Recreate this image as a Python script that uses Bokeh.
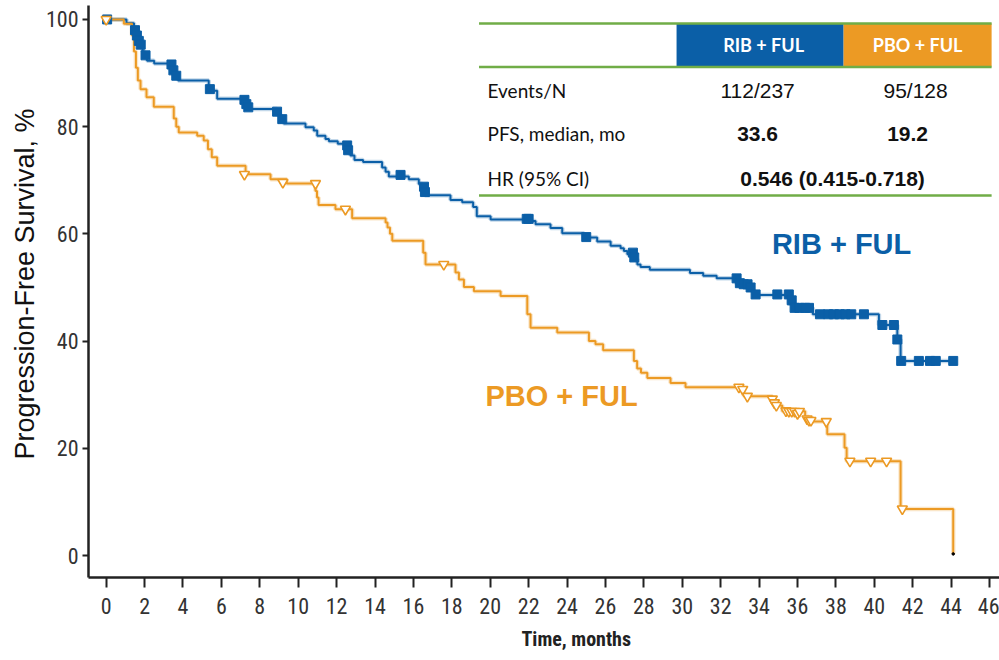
import math
from bokeh.plotting import figure
from bokeh.models import FixedTicker, Range1d, Title, Label
from bokeh.core.properties import value
from bokeh.embed import file_html
from bokeh.resources import INLINE

# ---------------- data ----------------
x_ticks = list(range(0, 47, 2))
y_ticks = [0, 20, 40, 60, 80, 100]

rib_t = [0, 1.06, 1.45, 1.6, 1.75, 1.9, 2.0, 2.13, 2.5, 3.35, 3.55, 3.75, 5.34, 5.78, 7.2, 7.43,
         8.9, 9.1, 9.25, 10.38, 10.81, 10.99, 11.42, 11.6, 12.06, 12.5, 12.6, 12.72, 12.93, 13.38,
         14.37, 14.55, 14.72, 15.76, 16.28, 16.46, 16.6, 17.93, 18.54, 19.11, 19.3, 20.02, 21.93,
         22.36, 23.14, 23.75, 24.88, 25.57, 26.27, 26.79, 26.96, 27.14, 27.48, 27.66, 27.83, 28.31,
         30.4, 31.09, 31.79, 32.83, 33.2, 33.56, 33.73, 35.55, 35.81, 36.8, 40.24, 41.2, 41.37]
rib_s = [100, 99.3, 98.3, 96.5, 95.0, 94.0, 93.0, 92.3, 91.8, 90.5, 89.5, 88.6, 86.7, 85.2, 84.2, 83.3,
         82.2, 81.4, 80.6, 79.9, 79.3, 78.3, 77.7, 77.3, 76.8, 75.9, 75.2, 74.6, 73.8, 73.4,
         72.4, 71.6, 70.7, 70.2, 69.3, 68.3, 67.2, 66.3, 65.9, 65.0, 63.3, 62.7, 62.4,
         61.8, 61.1, 60.1, 59.3, 58.6, 57.8, 57.3, 56.8, 56.2, 55.3, 54.3, 53.8, 53.3,
         52.7, 52.2, 51.7, 50.6, 50.0, 49.5, 48.6, 47.0, 46.2, 45.0, 43.0, 40.3, 36.3]
rib_end = 44.11

pbo_t = [0, 0.92, 1.35, 1.45, 1.55, 1.65, 1.79, 2.1, 2.48, 3.52, 3.65, 3.78, 4.74, 5.08, 5.3, 5.5,
         5.78, 7.26, 8.56, 9.4, 10.9, 10.98, 11.06, 11.94, 12.81, 14.55, 14.65, 14.78, 14.9, 16.51,
         16.63, 18.19, 18.37, 18.63, 19.15, 20.54, 21.93, 22.1, 23.49, 25.14, 25.48, 25.88, 27.48,
         27.65, 27.85, 28.18, 29.39, 30.17, 33.21, 34.69, 34.86, 35.21, 36.4, 36.6, 37.55, 38.45,
         38.56, 41.37]
pbo_s = [100, 99.2, 97.0, 94.0, 91.0, 88.6, 87.0, 85.5, 83.7, 81.5, 80.0, 78.9, 78.3, 77.4, 75.8, 74.3,
         72.7, 71.1, 70.2, 69.4, 68.0, 66.8, 65.4, 64.6, 62.9, 62.1, 61.2, 60.0, 58.7, 56.5,
         54.3, 52.8, 51.5, 50.1, 49.3, 48.4, 45.0, 42.5, 41.6, 40.0, 39.4, 38.3, 36.3,
         34.9, 34.1, 33.1, 32.2, 31.4, 29.7, 28.5, 28.0, 26.9, 25.9, 25.0, 22.6, 20.1,
         17.6, 8.7]
pbo_end = 44.11
pbo_last = 0.3

rib_cens_t = [0.05, 1.5, 1.6, 1.7, 1.8, 2.05, 3.4, 3.5, 3.65, 5.4, 7.2, 7.3, 7.4, 8.9, 9.17,
              12.55, 12.6, 15.33, 16.55, 16.6, 21.9, 22.0, 25.0, 27.43, 27.5, 32.83, 33.0, 33.2,
              33.4, 33.56, 33.82, 34.95, 35.55, 35.7, 35.85, 36.1, 36.4, 36.6, 37.17, 37.6, 37.9,
              38.2, 38.5, 38.8, 39.46, 40.42, 41.02, 41.2, 41.4, 42.32, 42.9, 43.2, 44.11]
rib_cens_s = [100, 98.0, 97.0, 96.0, 95.3, 93.3, 91.6, 90.5, 89.5, 87.0, 85.0, 84.2, 83.6, 82.8, 81.4,
              76.5, 75.6, 71.0, 68.8, 67.8, 62.8, 62.8, 59.4, 56.5, 55.6, 51.7, 50.8, 50.6,
              50.6, 50.0, 48.7, 48.7, 48.7, 47.6, 46.2, 46.2, 46.2, 46.2, 45.0, 45.0, 45.0,
              45.0, 45.0, 45.0, 45.0, 43.0, 43.0, 40.3, 36.3, 36.3, 36.3, 36.3, 36.3]

pbo_cens_t = [0.0, 7.2, 9.2, 10.9, 12.46, 17.58, 32.95, 33.15, 33.39, 34.69, 34.8, 34.9, 35.4,
              35.55, 35.7, 35.85, 36.0, 36.1, 36.5, 36.6, 36.7, 37.5, 38.73, 39.81, 40.64, 41.46]
pbo_cens_s = [100, 71.1, 69.6, 69.4, 64.6, 54.3, 31.4, 31.0, 29.7, 29.2, 28.5, 28.0, 27.0,
              26.9, 26.9, 26.9, 26.5, 26.9, 25.5, 25.2, 25.2, 25.0, 17.6, 17.6, 17.6, 8.7]

row_labels = ["Events/N", "PFS, median, mo", "HR (95% CI)"]
arm_names = ["RIB + FUL", "PBO + FUL"]
rib_vals = ["112/237", "33.6"]
pbo_vals = ["95/128", "19.2"]
hr_val = "0.546 (0.415-0.718)"
x_title = "Time, months"
y_title = "Progression-Free Survival, %"

assert len(rib_t) == len(rib_s) and len(pbo_t) == len(pbo_s)
assert len(rib_cens_t) == len(rib_cens_s) and len(pbo_cens_t) == len(pbo_cens_s)

# ---------------- style ----------------
BLUE = "#0B5FA7"
ORANGE = "#EC9A24"
GREEN = "#70AD47"
DARK = "#222222"
NARROW = "'Liberation Sans Narrow', 'Arial Narrow', 'Roboto Condensed', 'DejaVu Sans Condensed', Roboto, sans-serif"
ARIAL = "'Liberation Sans', Arial, sans-serif"
CAL = "Lato, 'Open Sans', sans-serif"

W, H = 999, 660
p = figure(width=W, height=H, output_backend="svg", toolbar_location=None,
           x_range=Range1d(-0.92, 46.52), y_range=Range1d(-4.1, 102.6),
           min_border_left=88, min_border_right=0, min_border_top=5, min_border_bottom=83)
p.outline_line_color = None
p.xgrid.visible = False
p.ygrid.visible = False
p.background_fill_color = "white"
p.border_fill_color = "white"

# pixel -> data helpers for layout (annotations / table)
def tx(px):
    return (px - 105.7) / 19.2

def vy(py):
    return (555.0 - py) / 5.36

for ax in (p.xaxis[0], p.yaxis[0]):
    ax.axis_line_color = DARK
    ax.axis_line_width = 2.5
    ax.major_tick_line_color = DARK
    ax.major_tick_line_width = 2
    ax.minor_tick_line_color = None
    ax.major_tick_in = 0
    ax.major_label_text_font = NARROW
    ax.major_label_text_font_size = "22px"
    ax.major_label_text_color = "#333333"

p.xaxis.ticker = FixedTicker(ticks=x_ticks)
p.yaxis.ticker = FixedTicker(ticks=y_ticks)
p.xaxis.major_tick_out = 10
p.yaxis.major_tick_out = 6
p.xaxis.major_label_standoff = 10
p.yaxis.major_label_standoff = 4

# ---------------- axis titles ----------------
p.add_layout(Title(text=x_title, align="left", offset=433, text_font=NARROW,
                   text_font_style="bold", text_font_size="20px", text_color="#222222",
                   standoff=16), "below")
p.add_layout(Title(text=y_title, align="left", offset=118, text_font=ARIAL,
                   text_font_style="normal", text_font_size="27px", text_color="#111111",
                   standoff=6), "left")

# ---------------- curves ----------------
rx = rib_t + [rib_end]
ry = rib_s + [rib_s[-1]]
ox = pbo_t + [pbo_end, pbo_end]
oy = pbo_s + [pbo_s[-1], pbo_last]

p.step(rx, ry, mode="after", line_color=BLUE, line_width=4.5, line_alpha=0.25)
p.step(ox, oy, mode="after", line_color=ORANGE, line_width=4.5, line_alpha=0.25)
p.step(rx, ry, mode="after", line_color=BLUE, line_width=2)
p.step(ox, oy, mode="after", line_color=ORANGE, line_width=2)

p.scatter(rib_cens_t, rib_cens_s, marker="square", size=9, fill_color=BLUE, line_color=BLUE)
p.scatter(pbo_cens_t, pbo_cens_s, marker="inverted_triangle", size=10, fill_color="white",
          line_color=ORANGE, line_width=1.6)
p.scatter([pbo_end], [pbo_last], marker="circle", size=2.5, fill_color="black", line_color="black")

# ---------------- table ----------------
x_l, x_m, x_r, x_e = tx(478.5), tx(676), tx(843), tx(991)
p.quad(left=[x_m, x_r], right=[x_r, x_e], top=[vy(23), vy(23)], bottom=[vy(66), vy(66)],
       fill_color=[BLUE, ORANGE], line_color=None)
p.segment(x0=[x_l] * 3, x1=[x_e] * 3, y0=[vy(23), vy(66.5), vy(195)], y1=[vy(23), vy(66.5), vy(195)],
          line_color=GREEN, line_width=2.5)

p.text(x=[tx(763), tx(917)], y=[vy(45), vy(45)], text=arm_names, text_color="white",
       text_font=value(CAL), text_font_style="bold", text_font_size="18px",
       text_align="center", text_baseline="middle")

row_y = [vy(90), vy(133.5), vy(178)]
p.text(x=[tx(487)] * 3, y=row_y, text=row_labels, text_color="#111111",
       text_font=value(CAL), text_font_size="19px", text_align="left", text_baseline="middle")
p.text(x=[tx(757), tx(915)], y=[row_y[0]] * 2, text=[rib_vals[0], pbo_vals[0]],
       text_color="#111111", text_font=value(ARIAL), text_font_size="21px",
       text_align="center", text_baseline="middle")
p.text(x=[tx(757), tx(907), tx(832)], y=[row_y[1], row_y[1], row_y[2]],
       text=[rib_vals[1], pbo_vals[1], hr_val], text_color="#111111",
       text_font=value(ARIAL), text_font_style="bold", text_font_size="21px",
       text_align="center", text_baseline="middle")

# ---------------- series labels ----------------
p.add_layout(Label(x=tx(841), y=vy(244), text=arm_names[0], text_color=BLUE,
                   text_font=ARIAL, text_font_style="bold", text_font_size="29px",
                   text_align="center", text_baseline="middle"))
p.add_layout(Label(x=tx(561), y=vy(396), text=arm_names[1], text_color=ORANGE,
                   text_font=ARIAL, text_font_style="bold", text_font_size="29px",
                   text_align="center", text_baseline="middle"))

open("out.html", "w").write(file_html(p, INLINE))
